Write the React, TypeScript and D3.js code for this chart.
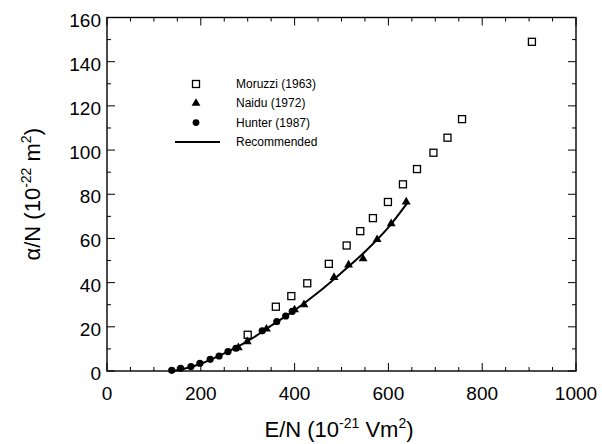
import React from "react";
import * as d3 from "d3";

// Moruzzi (1963) - open squares
const moruzziE = [300, 360, 393, 427, 473, 511, 540, 567, 599, 631, 661, 696, 726, 757, 906];
const moruzziA = [16.4, 29.1, 33.9, 39.7, 48.5, 56.8, 63.3, 69.2, 76.5, 84.5, 91.4, 98.8, 105.6, 114, 149];

// Naidu (1972) - filled triangles
const naiduE = [280, 299, 340, 400, 420, 484, 515, 546, 576, 606, 638];
const naiduA = [10.6, 13.3, 19.0, 27.7, 30.0, 42.4, 48.0, 50.8, 59.5, 66.7, 76.5];

// Hunter (1987) - filled circles
const hunterE = [138, 157, 179, 198, 220, 239, 258, 275, 331, 362, 381, 395];
const hunterA = [0.3, 1.2, 2.0, 3.5, 5.3, 6.8, 8.8, 10.3, 18.2, 22.4, 24.9, 27.0];

// Recommended curve
const recE = [140, 175, 200, 250, 300, 350, 400, 450, 500, 550, 600, 640];
const recA = [0, 1.6, 3.3, 8, 13.5, 20.5, 27.5, 35.5, 44.5, 54, 65, 76];

const xTickLabels = [0, 200, 400, 600, 800, 1000];
const yTickLabels = [0, 20, 40, 60, 80, 100, 120, 140, 160];

const W = 602;
const H = 444;
const margin = { left: 107, right: 26, top: 17.5, bottom: 73 };
const font = "'Liberation Sans', Arial, Helvetica, sans-serif";

export default function App() {
  const x = d3.scaleLinear().domain([0, 1000]).range([margin.left, W - margin.right]);
  const y = d3.scaleLinear().domain([0, 160]).range([H - margin.bottom, margin.top]);

  const [x0, x1] = x.range();
  const [y0, y1] = y.range();

  const xMinor = d3.range(0, 1001, 50);
  const yMinor = d3.range(0, 161, 10);

  const line = d3
    .line<number>()
    .x((d, i) => x(recE[i]))
    .y((d) => y(d))
    .curve(d3.curveMonotoneX);

  const tri = d3.symbol().type(d3.symbolTriangle).size(34)();

  // legend position
  const lx = 196;
  const ly = 84;
  const lgap = 19.3;

  return (
    <svg
      width={W}
      height={H}
      style={{ position: "absolute", left: 0, top: 0, background: "#fff" }}
      fontFamily={font}
    >
      {/* frame */}
      <rect x={x0} y={y1} width={x1 - x0} height={y0 - y1} fill="none" stroke="#000" strokeWidth={1.4} />

      {/* x ticks, bottom and top, inward */}
      {xMinor.map((v) => {
        const len = v % 200 === 0 ? 8 : 4;
        return (
          <g key={"xt" + v} stroke="#000" strokeWidth={1}>
            <line x1={x(v)} x2={x(v)} y1={y0} y2={y0 - len} />
            <line x1={x(v)} x2={x(v)} y1={y1} y2={y1 + len} />
          </g>
        );
      })}
      {/* y ticks, left and right, inward */}
      {yMinor.map((v) => {
        const len = v % 20 === 0 ? 8 : 4;
        return (
          <g key={"yt" + v} stroke="#000" strokeWidth={1}>
            <line x1={x0} x2={x0 + len} y1={y(v)} y2={y(v)} />
            <line x1={x1} x2={x1 - len} y1={y(v)} y2={y(v)} />
          </g>
        );
      })}

      {/* tick labels */}
      {xTickLabels.map((v) => (
        <text key={"xl" + v} x={x(v)} y={y0 + 29} textAnchor="middle" fontSize={19}>
          {v}
        </text>
      ))}
      {yTickLabels.map((v) => (
        <text key={"yl" + v} x={x0 - 6} y={y(v) + 9} textAnchor="end" fontSize={19}>
          {v}
        </text>
      ))}

      {/* axis titles */}
      <text x={339} y={437} textAnchor="middle" fontSize={22}>
        E/N (10
        <tspan dy={-9} fontSize={14}>-21</tspan>
        <tspan dy={9}> Vm</tspan>
        <tspan dy={-9} fontSize={14}>2</tspan>
        <tspan dy={9}>)</tspan>
      </text>
      <text transform={`translate(40,${(y0 + y1) / 2}) rotate(-90)`} textAnchor="middle" fontSize={22}>
        α/N (10
        <tspan dy={-9} fontSize={14}>-22</tspan>
        <tspan dy={9}> m</tspan>
        <tspan dy={-9} fontSize={14}>2</tspan>
        <tspan dy={9}>)</tspan>
      </text>

      {/* recommended curve */}
      <path d={line(recA) || ""} fill="none" stroke="#000" strokeWidth={2} />

      {/* Moruzzi squares */}
      {moruzziE.map((e, i) => (
        <rect
          key={"m" + i}
          x={x(e) - 3.5}
          y={y(moruzziA[i]) - 3.5}
          width={7}
          height={7}
          fill="#fff"
          stroke="#000"
          strokeWidth={1.3}
        />
      ))}
      {/* Naidu triangles */}
      {naiduE.map((e, i) => (
        <path key={"n" + i} d={tri || ""} transform={`translate(${x(e)},${y(naiduA[i])})`} fill="#000" />
      ))}
      {/* Hunter circles */}
      {hunterE.map((e, i) => (
        <circle key={"h" + i} cx={x(e)} cy={y(hunterA[i])} r={3.6} fill="#000" />
      ))}

      {/* legend */}
      <g fontSize={12}>
        <rect x={lx - 3.5} y={ly - 3.5} width={7} height={7} fill="#fff" stroke="#000" strokeWidth={1.3} />
        <text x={236} y={ly + 4}>Moruzzi (1963)</text>
        <path d={tri || ""} transform={`translate(${lx},${ly + lgap})`} fill="#000" />
        <text x={236} y={ly + lgap + 4}>Naidu (1972)</text>
        <circle cx={lx} cy={ly + 2 * lgap} r={3.4} fill="#000" />
        <text x={236} y={ly + 2 * lgap + 4}>Hunter (1987)</text>
        <line x1={175} x2={220} y1={ly + 3 * lgap} y2={ly + 3 * lgap} stroke="#000" strokeWidth={2} />
        <text x={236} y={ly + 3 * lgap + 4}>Recommended</text>
      </g>
    </svg>
  );
}
